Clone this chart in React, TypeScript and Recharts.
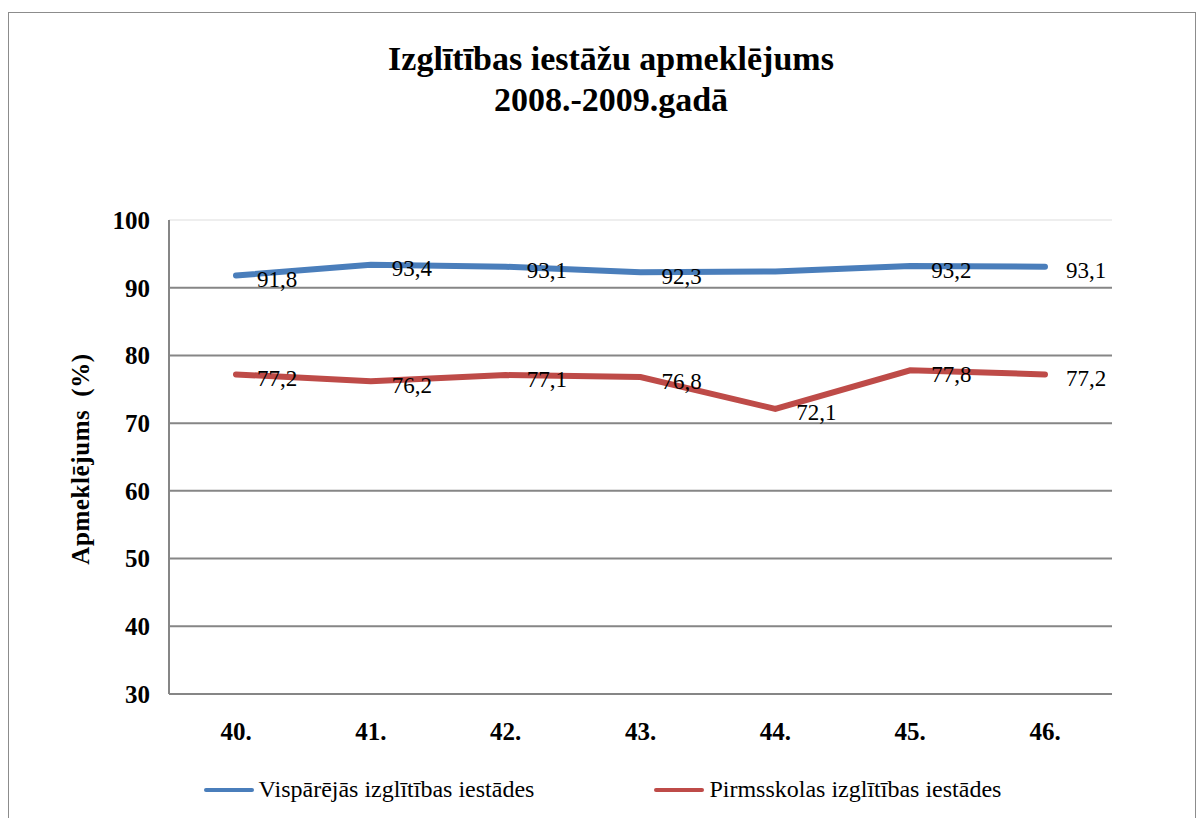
import { LineChart, Line, XAxis, YAxis, CartesianGrid, ReferenceLine, LabelList, Legend } from "recharts";

const weeks = ["40.", "41.", "42.", "43.", "44.", "45.", "46."];
const general = [91.8, 93.4, 93.1, 92.3, 92.4, 93.2, 93.1];
const preschool = [77.2, 76.2, 77.1, 76.8, 72.1, 77.8, 77.2];
const generalHiddenLabels = [4];
const yTicks = [30, 40, 50, 60, 70, 80, 90, 100];

const SERIES = [
    { key: "general", name: "Vispārējās izglītības iestādes", color: "#4a7ebb" },
    { key: "preschool", name: "Pirmsskolas izglītības iestādes", color: "#be4b48" },
];

const FONT = "'Liberation Serif', 'Times New Roman', serif";

const data = weeks.map((w, i) => ({ week: w, general: general[i], preschool: preschool[i] }));

const fmt = (v: number) => v.toFixed(1).replace(".", ",");

// value labels sit to the right of the point
const makeLabel = (hidden: number[]) => (props: any) => {
    const { x, y, value, index } = props;
    if (hidden.includes(index)) return null;
    return (
        <text x={x + 21} y={y + 4} dominantBaseline="central" textAnchor="start"
            fontFamily={FONT} fontSize={23} fill="#000">
            {fmt(value)}
        </text>
    );
};

const CustomLegend = () => (
    <div style={{ display: "flex", justifyContent: "center", gap: 120, fontFamily: FONT, fontSize: 24, paddingRight: 16 }}>
        {SERIES.map((s) => (
            <div key={s.key} style={{ display: "flex", alignItems: "center", gap: 5 }}>
                <div style={{ width: 50, height: 4, background: s.color, borderRadius: 2 }} />
                <span>{s.name}</span>
            </div>
        ))}
    </div>
);

export default function App() {
    return (
        <div style={{ position: "relative", width: 1188, height: 830, marginTop: 4, border: "1px solid #8c8c8c", boxSizing: "border-box", background: "#fff" }}>
            <div style={{
                position: "absolute", top: 25, left: 9, width: "100%", textAlign: "center",
                fontFamily: FONT, fontWeight: 700, fontSize: 34, lineHeight: "41px",
            }}>
                Izglītības iestāžu apmeklējums<br />2008.-2009.gadā
            </div>
            <div style={{
                position: "absolute", left: 72, top: 446, transform: "translate(-50%, -50%) rotate(-90deg)",
                fontFamily: FONT, fontWeight: 700, fontSize: 25, letterSpacing: 0.6, wordSpacing: 6, whiteSpace: "nowrap",
            }}>
                Apmeklējums (%)
            </div>
            <LineChart width={1186} height={800} data={data} margin={{ top: 207, right: 83, left: 100, bottom: 32 }}>
                <CartesianGrid vertical={false} stroke="#868686" strokeWidth={2} />
                <ReferenceLine y={100} stroke="#eeeeee" strokeWidth={2} />
                <XAxis dataKey="week" padding={{ left: 67, right: 67 }} axisLine={{ stroke: "#868686", strokeWidth: 2 }} tickLine={false}
                    tick={{ fontFamily: FONT, fontSize: 25, fontWeight: 700, fill: "#000" }} tickMargin={22} height={60} />
                <YAxis domain={[30, 100]} ticks={yTicks} width={60} axisLine={{ stroke: "#868686", strokeWidth: 2 }}
                    tickLine={false} tickMargin={13}
                    tick={{ fontFamily: FONT, fontSize: 25, fontWeight: 700, fill: "#000" }} />
                <Line dataKey="general" name={SERIES[0].name} stroke={SERIES[0].color} strokeWidth={6}
                    dot={false} strokeLinecap="round" isAnimationActive={false}>
                    <LabelList dataKey="general" content={makeLabel(generalHiddenLabels)} />
                </Line>
                <Line dataKey="preschool" name={SERIES[1].name} stroke={SERIES[1].color} strokeWidth={6}
                    dot={false} strokeLinecap="round" isAnimationActive={false}>
                    <LabelList dataKey="preschool" content={makeLabel([])} />
                </Line>
                <Legend content={<CustomLegend />} verticalAlign="bottom" wrapperStyle={{ bottom: 10 }} />
            </LineChart>
        </div>
    );
}
